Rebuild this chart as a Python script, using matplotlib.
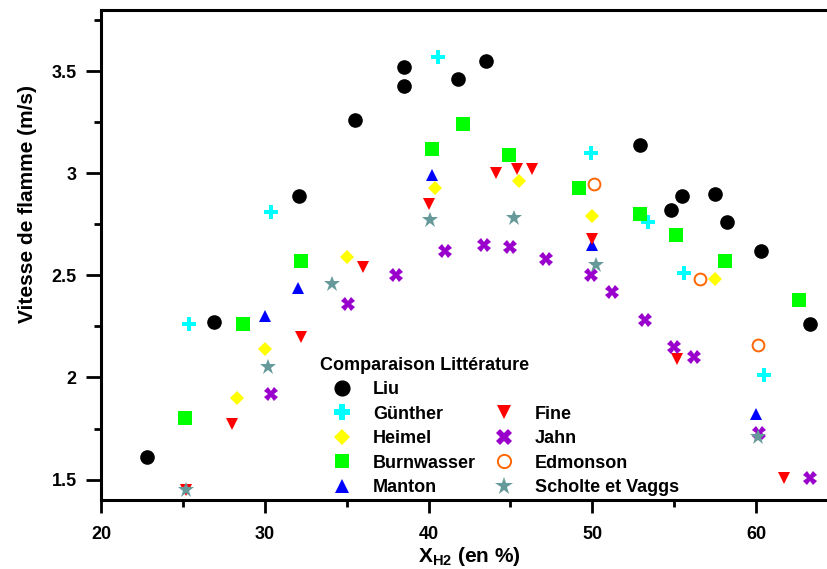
import matplotlib
matplotlib.use("Agg")
import matplotlib.pyplot as plt
from matplotlib.ticker import MultipleLocator, StrMethodFormatter

# --- data ---
liu_x = [22.8, 26.9, 32.1, 35.5, 38.5, 38.5, 41.8, 43.5, 52.9, 54.8, 55.5, 57.5, 58.2, 60.3, 63.3]
liu_y = [1.61, 2.27, 2.89, 3.26, 3.43, 3.52, 3.46, 3.55, 3.14, 2.82, 2.89, 2.90, 2.76, 2.62, 2.26]

gunther_x = [25.4, 30.4, 40.6, 49.9, 53.4, 55.6, 60.5]
gunther_y = [2.26, 2.81, 3.57, 3.10, 2.76, 2.51, 2.01]

heimel_x = [28.3, 30.0, 35.0, 40.4, 45.5, 50.0, 57.5]
heimel_y = [1.90, 2.14, 2.59, 2.93, 2.96, 2.79, 2.48]

burn_x = [25.1, 28.7, 32.2, 40.2, 42.1, 44.9, 49.2, 52.9, 55.1, 58.1, 62.6]
burn_y = [1.80, 2.26, 2.57, 3.12, 3.24, 3.09, 2.93, 2.80, 2.70, 2.57, 2.38]

manton_x = [30.0, 32.0, 40.2, 50.0, 60.0]
manton_y = [2.30, 2.44, 2.99, 2.65, 1.82]

fine_x = [25.2, 28.0, 32.2, 36.0, 40.0, 44.1, 45.4, 46.3, 50.0, 55.2, 61.7]
fine_y = [1.45, 1.77, 2.20, 2.54, 2.85, 3.00, 3.02, 3.02, 2.68, 2.09, 1.51]

jahn_x = [30.4, 35.1, 38.0, 41.0, 43.4, 45.0, 47.2, 49.9, 51.2, 53.2, 55.0, 56.2, 60.2, 63.3]
jahn_y = [1.92, 2.36, 2.50, 2.62, 2.65, 2.64, 2.58, 2.50, 2.42, 2.28, 2.15, 2.10, 1.73, 1.51]

edm_x = [50.1, 56.6, 60.1]
edm_y = [2.95, 2.48, 2.16]

scholte_x = [25.2, 30.2, 34.1, 40.1, 45.2, 50.2, 60.1]
scholte_y = [1.45, 2.05, 2.46, 2.77, 2.78, 2.55, 1.71]

plt.rcParams["font.family"] = ["Liberation Sans", "DejaVu Sans"]
plt.rcParams["font.weight"] = "bold"
plt.rcParams["mathtext.fontset"] = "custom"
plt.rcParams["mathtext.rm"] = "Liberation Sans:bold"
plt.rcParams["mathtext.bf"] = "Liberation Sans:bold"

fig = plt.figure(figsize=(8.28, 5.69), dpi=100)
ax = fig.add_axes([0.122, 0.1213, 0.890, 0.8612])

ax.plot(liu_x, liu_y, "o", color="black", ms=9.5, ls="none", label="Liu")
ax.plot(gunther_x, gunther_y, "P", color="#00ffff", ms=10, mew=0, ls="none", label="Günther")
ax.plot(heimel_x, heimel_y, "D", color="#ffff00", ms=7.5, mew=0, ls="none", label="Heimel")
ax.plot(burn_x, burn_y, "s", color="#00ff00", ms=9.5, mew=0, ls="none", label="Burnwasser")
ax.plot(manton_x, manton_y, "^", color="#0000ff", ms=9, mew=0, ls="none", label="Manton")
ax.plot(fine_x, fine_y, "v", color="#ff0000", ms=9, mew=0, ls="none", label="Fine")
ax.plot(jahn_x, jahn_y, "X", color="#9a00cc", ms=10, mew=0, ls="none", label="Jahn")
ax.plot(edm_x, edm_y, "o", mfc="none", mec="#ff6600", mew=1.4, ms=8.5, ls="none", label="Edmonson")
ax.plot(scholte_x, scholte_y, "*", color="#669999", ms=12, mew=0, ls="none", label="Scholte et Vaggs")

ax.set_xlim(20, 65)
ax.set_ylim(1.4, 3.8)
ax.xaxis.set_major_locator(MultipleLocator(10))
ax.xaxis.set_minor_locator(MultipleLocator(5))
ax.yaxis.set_major_locator(MultipleLocator(0.5))
ax.yaxis.set_minor_locator(MultipleLocator(0.25))
ax.yaxis.set_major_formatter(StrMethodFormatter("{x:g}"))

for s in ax.spines.values():
    s.set_linewidth(2.2)
ax.tick_params(which="both", direction="out", width=2, labelsize=13)
ax.tick_params(axis="x", which="major", length=9, pad=10)
ax.tick_params(axis="y", which="major", length=10.5, pad=7)
ax.tick_params(which="minor", length=5)
for lab in ax.get_xticklabels() + ax.get_yticklabels():
    lab.set_fontweight("bold")

ax.set_ylabel("Vitesse de flamme (m/s)", fontsize=15, fontweight="bold")
ax.yaxis.set_label_coords(-0.087, 0.604)
ax.set_xlabel(r"X$_{\mathbf{H2}}$ (en %)", fontsize=15, fontweight="bold", labelpad=1)

# legend: blank slot so the second column starts on the second row
handles, labels = ax.get_legend_handles_labels()
blank = plt.Line2D([], [], ls="none", marker="none")
handles = handles[:5] + [blank] + handles[5:]
labels = labels[:5] + [""] + labels[5:]
leg = ax.legend(handles, labels, ncol=2, loc="upper left",
                bbox_to_anchor=(0.297, 0.292), frameon=False,
                title="Comparaison Littérature", alignment="left",
                prop={"size": 13, "weight": "bold"},
                title_fontproperties={"size": 13, "weight": "bold"},
                handlelength=2.44, handletextpad=0.5, columnspacing=0.33,
                labelspacing=0.41, borderpad=0, borderaxespad=0,
                numpoints=1, markerscale=1.12)

fig.savefig("out.png", dpi=100)
